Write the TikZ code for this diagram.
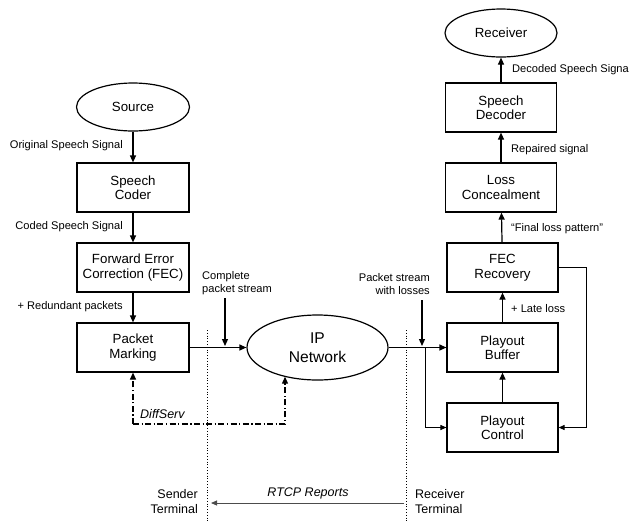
\documentclass[tikz,border=0pt]{standalone}
\usepackage{fontspec}
\setmainfont{Liberation Sans}
\usetikzlibrary{arrows.meta,shapes.geometric,calc}
\tikzset{
  box/.style={draw,line width=1.2pt,rectangle,inner sep=0pt,minimum width=112pt,minimum height=49pt,align=center,font=\fontsize{13.3}{14.5}\selectfont},
  oval/.style={draw,line width=1.2pt,ellipse,inner sep=0pt,align=center,font=\fontsize{13.3}{14.5}\selectfont},
  lbl/.style={inner sep=0pt,font=\fontsize{11.1}{13}\selectfont},
  big/.style={inner sep=0pt,font=\fontsize{12.5}{15}\selectfont},
  conn/.style={line width=1.2pt,-{Triangle[length=7pt,width=6pt]}},
  thin/.style={line width=1pt,-{Triangle[length=6pt,width=5pt]}},
  dashdot/.style={line width=1.2pt,dash pattern=on 6pt off 2.5pt on 1.2pt off 2.5pt,-{Triangle[length=7pt,width=6pt]}},
  sep/.style={line width=0.8pt,dotted},
}
\begin{document}
\begin{tikzpicture}[x=1pt,y=-1pt]
\useasboundingbox (0,0) rectangle (629,523);
\clip (0,0) rectangle (629,523);
% left column
\node[oval,minimum width=113pt,minimum height=48pt] (source) at (133,107) {Source};
\node[box] (coder) at (133,187.5) {Speech\\Coder};
\node[box] (fec) at (133,267.5) {Forward Error\\Correction (FEC)};
\node[box] (mark) at (133,347.5) {Packet\\Marking};
% network
\node[oval,minimum width=141pt,minimum height=65pt,font=\fontsize{15.6}{19}\selectfont] (ipnet) at (317.5,347.5) {IP\\Network};
% right column
\node[box,minimum width=111pt] (buffer) at (502.5,347.5) {Playout\\Buffer};
\node[box,minimum width=111pt] (fecrec) at (502.5,267.5) {FEC\\Recovery};
\node[box,minimum width=111pt] (ctrl) at (502.5,427.5) {Playout\\Control};
\node[box,minimum width=111pt] (conceal) at (501,187.5) {Loss\\Concealment};
\node[box,minimum width=111pt] (decoder) at (501,107.5) {Speech\\Decoder};
\node[oval,minimum width=112pt,minimum height=48pt] (receiver) at (501,33) {Receiver};
% labels
\node[lbl,anchor=east] (l1) at (123,146) {Original Speech Signal};
\node[lbl,anchor=east] (l2) at (123,227) {Coded Speech Signal};
\node[lbl,anchor=east] (l3) at (123,307) {+ Redundant packets};
\node[lbl,anchor=west,align=left] (l4) at (202,283) {Complete\\packet stream};
\node[lbl,anchor=east,align=right] (l5) at (430,284) {Packet stream\\with losses};
\node[lbl,anchor=west] (l6) at (511,309) {+ Late loss};
\node[lbl,anchor=west] (l7) at (511,229) {``Final loss pattern''};
\node[lbl,anchor=west] (l8) at (511,150) {Repaired signal};
\node[lbl,anchor=west] (l9) at (512,70) {Decoded Speech Signal};
\node[big,anchor=west] (l10) at (140,414) {\itshape DiffServ};
\node[big] (l11) at (308,493) {\itshape RTCP Reports};
\node[big,anchor=east,align=right] (l12) at (198,502) {Sender\\Terminal};
\node[big,anchor=west,align=left] (l13) at (415,502) {Receiver\\Terminal};
% separators
\coordinate (s1a) at (207,330); \coordinate (s1b) at (207,523);
\coordinate (s2a) at (406,330); \coordinate (s2b) at (406,523);
\draw[sep] (s1a) -- (s1b);
\draw[sep] (s2a) -- (s2b);
% sender chain
\draw[conn] (source) -- (coder);
\draw[conn] (coder) -- (fec);
\draw[conn] (fec) -- (mark);
\draw[conn] (mark.east) -- (ipnet.west);
\coordinate (cs1) at (225,298); \coordinate (cs2) at (225,346);
\draw[conn] (cs1) -- (cs2);
% receiver chain
\draw[conn] (ipnet.east) -- (buffer.west);
\coordinate (ps1) at (422,300); \coordinate (ps2) at (422,346);
\draw[conn] (ps1) -- (ps2);
\coordinate (br) at (425,347.5);
\draw[thin] (br) |- (ctrl.west);
\coordinate (fb) at (586,267.5);
\draw[thin] (fecrec.east) -- (fb) |- (ctrl.east);
\draw[conn] (ctrl) -- (buffer);
\draw[conn] (buffer) -- (fecrec);
\draw[conn] (fecrec) -- (conceal);
\draw[conn] (conceal) -- (decoder);
\draw[conn] (decoder) -- (receiver);
% diffserv
\coordinate (d1) at (133,424); \coordinate (d2) at (285,424);
\draw[dashdot] (d1) -- (mark.south);
\draw[dashdot] (d1) -- (d2) -- (d2 |- ipnet.221);
% RTCP
\coordinate (r1) at (404,503); \coordinate (r2) at (211,503);
\draw[line width=0.9pt,draw=black!70,-{Triangle[length=6pt,width=5pt]}] (r1) -- (r2);
\end{tikzpicture}
\end{document}
